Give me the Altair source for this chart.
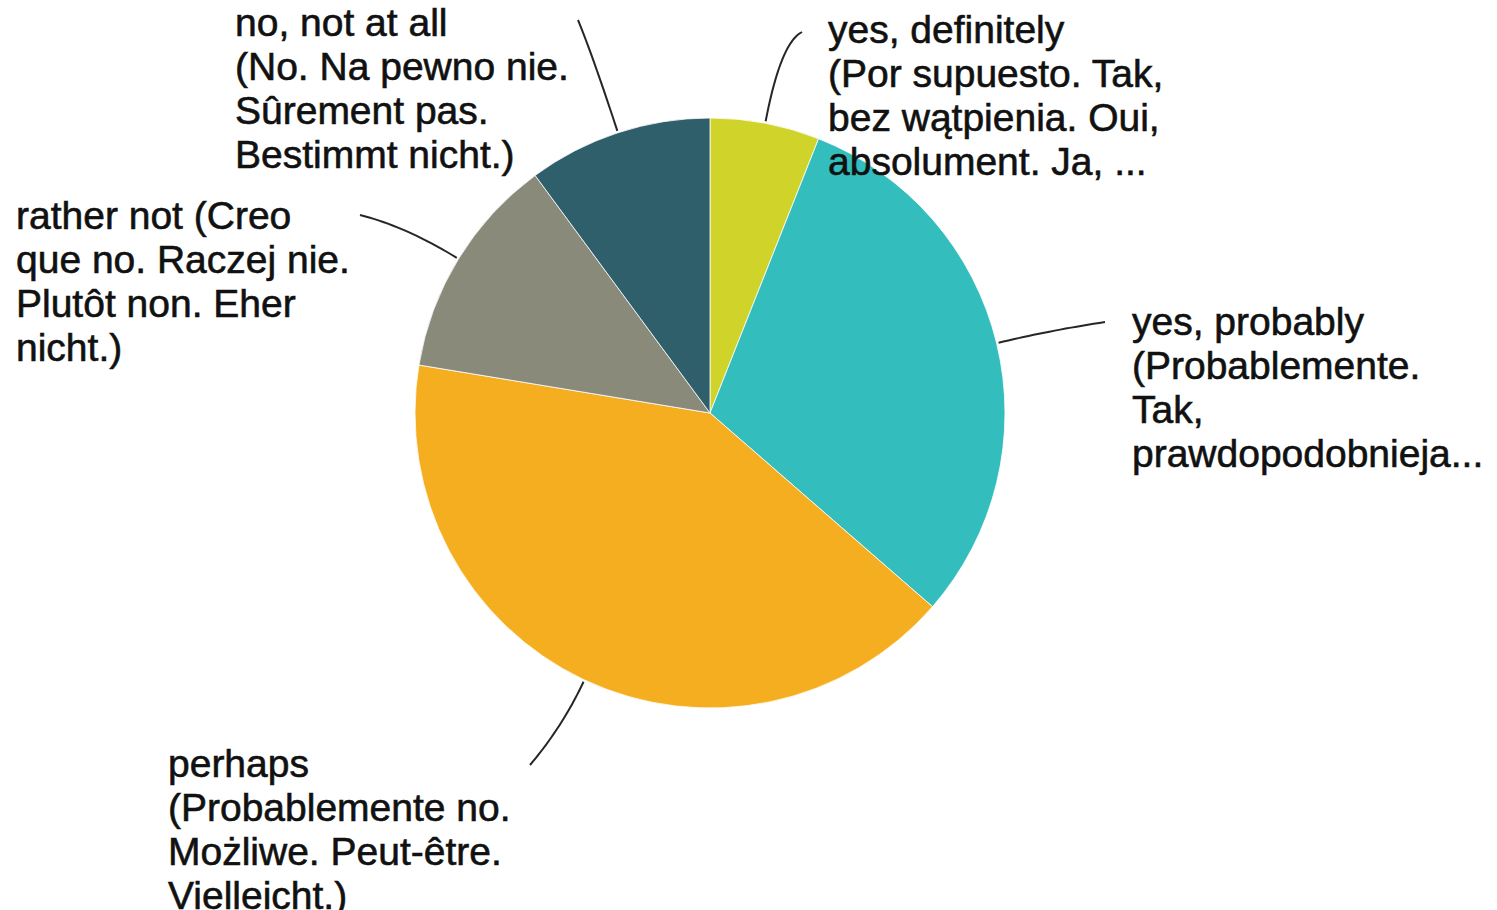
import math
import altair as alt
import pandas as pd

# Survey answers, in the order they run clockwise from 12 o'clock
answers = [
    "yes, definitely",
    "yes, probably",
    "perhaps",
    "rather not",
    "no, not at all",
]
shares = [6.0, 30.4, 41.2, 12.3, 10.1]
colors = ["#cfd32a", "#34bdbd", "#f5ae1f", "#8a8a7b", "#2f5f6b"]
label_texts = [
    "yes, definitely\n(Por supuesto. Tak,\nbez wątpienia. Oui,\nabsolument. Ja, ...",
    "yes, probably\n(Probablemente.\nTak,\nprawdopodobnieja...",
    "perhaps\n(Probablemente no.\nMożliwe. Peut-être.\nVielleicht.)",
    "rather not (Creo\nque no. Raczej nie.\nPlutôt non. Eher\nnicht.)",
    "no, not at all\n(No. Na pewno nie.\nSûrement pas.\nBestimmt nicht.)",
]

# Layout of the pie and of the callouts (pixels)
W, H = 1497, 910
CX, CY, R = 710, 413, 295
FONT = "Liberation Sans"
label_x = [828, 1132, 168, 16, 235]
label_y = [43, 335, 777, 229, 36]
leader_end = [(802, 32), (1105, 322), (530, 765), (360, 215), (578, 20)]
leader_bend = [80, 50, 50, 60, 80]

slices = pd.DataFrame({
    "answer": answers,
    "share": shares,
    "idx": list(range(len(answers))),
})

# Leader lines: quadratic curves leaving each slice at its middle angle
total = sum(shares)
rows = []
start = 0.0
for i, (ans, s) in enumerate(zip(answers, shares)):
    mid = (start + s / 2) / total * 2 * math.pi
    start += s
    dx, dy = math.sin(mid), -math.cos(mid)
    sx, sy = CX + (R + 2) * dx, CY + (R + 2) * dy
    cx, cy = sx + leader_bend[i] * dx, sy + leader_bend[i] * dy
    ex, ey = leader_end[i]
    for k in range(21):
        t = k / 20
        px = (1 - t) ** 2 * sx + 2 * (1 - t) * t * cx + t ** 2 * ex
        py = (1 - t) ** 2 * sy + 2 * (1 - t) * t * cy + t ** 2 * ey
        rows.append({"answer": ans, "k": k, "px": px, "py": py})
leaders = pd.DataFrame(rows)

labels = pd.DataFrame({
    "answer": answers,
    "text": label_texts,
    "lx": label_x,
    "ly": label_y,
})

pie = alt.Chart(slices).mark_arc(
    outerRadius=R, stroke="white", strokeWidth=0.8
).encode(
    theta=alt.Theta("share:Q", stack=True),
    order=alt.Order("idx:O"),
    color=alt.Color(
        "answer:N",
        scale=alt.Scale(domain=answers, range=colors),
        legend=None,
    ),
    x=alt.value(CX),
    y=alt.value(CY),
)

lines = alt.Chart(leaders).mark_line(
    color="#262626", strokeWidth=2
).encode(
    x=alt.X("px:Q", scale=None, axis=None),
    y=alt.Y("py:Q", scale=None, axis=None),
    detail="answer:N",
    order="k:Q",
)

text = alt.Chart(labels).mark_text(
    align="left",
    baseline="alphabetic",
    font=FONT,
    fontSize=39,
    lineHeight=44,
    lineBreak="\n",
    color="#111111",
    stroke="#111111",
    strokeWidth=0.6,
).encode(
    x=alt.X("lx:Q", scale=None, axis=None),
    y=alt.Y("ly:Q", scale=None, axis=None),
    text="text:N",
)

chart = alt.layer(pie, lines, text).properties(
    width=W,
    height=H,
    padding=0,
    autosize=alt.AutoSizeParams(type="none"),
).configure_view(stroke=None)

chart.save("out.html", embed_options={"renderer": "svg", "actions": False})
